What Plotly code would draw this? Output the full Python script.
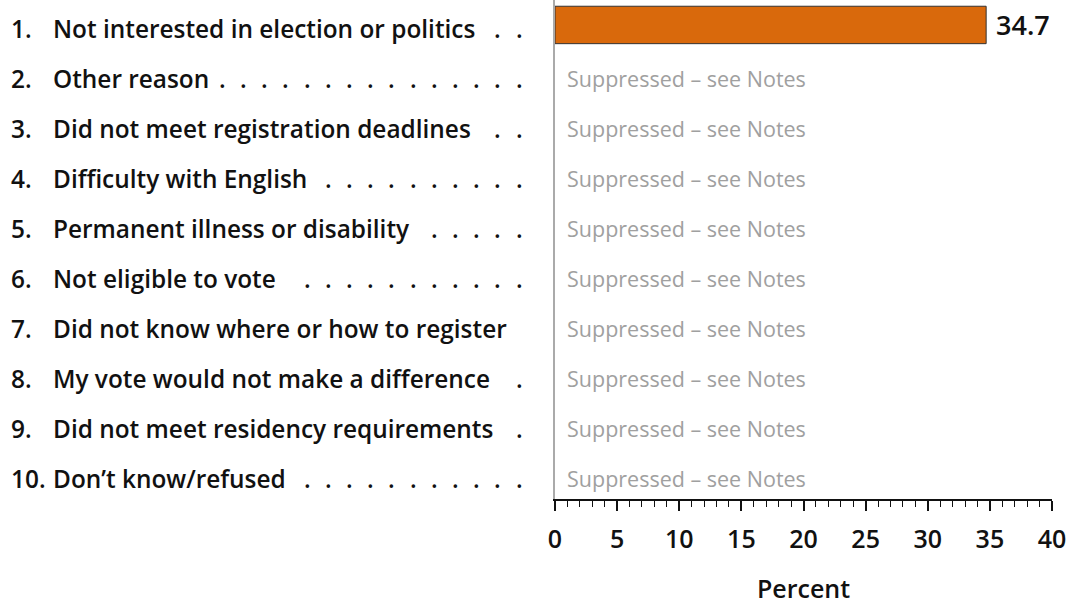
import plotly.graph_objects as go

numbers = ["1.", "2.", "3.", "4.", "5.", "6.", "7.", "8.", "9.", "10."]
reasons = [
    "Not interested in election or politics",
    "Other reason",
    "Did not meet registration deadlines",
    "Difficulty with English",
    "Permanent illness or disability",
    "Not eligible to vote",
    "Did not know where or how to register",
    "My vote would not make a difference",
    "Did not meet residency requirements",
    "Don\u2019t know/refused",
]
values = [34.7, None, None, None, None, None, None, None, None, None]
leader_dots = [2, 15, 2, 10, 5, 11, 0, 1, 1, 11]
suppressed_text = "Suppressed \u2013 see Notes"
x_ticks = [0, 5, 10, 15, 20, 25, 30, 35, 40]

FONT = "Open Sans"
L = 555  # left margin px
LBL = dict(family=FONT, size=24.4, color="#111", weight=600)

fig = go.Figure()
fig.add_trace(go.Bar(
    y=reasons,
    x=values,
    orientation="h",
    width=0.75,
    marker=dict(color="#D9690C", line=dict(color="#333333", width=1)),
    hoverinfo="skip",
))

ann = []
for i, (num, r, v, nd) in enumerate(zip(numbers, reasons, values, leader_dots)):
    ys = -4
    ann.append(dict(x=0, y=r, xref="paper", yref="y", text=num, showarrow=False,
                    xanchor="left", xshift=9 - L, yshift=ys, font=LBL))
    ann.append(dict(x=0, y=r, xref="paper", yref="y", text=r, showarrow=False,
                    xanchor="left", xshift=51 - L, yshift=ys, font=LBL))
    for k in range(nd):
        ann.append(dict(x=0, y=r, xref="paper", yref="y", text=".", showarrow=False,
                        xanchor="center", xshift=519 - k * 21.2 - L, yshift=ys, font=LBL))
    if v is None:
        ann.append(dict(x=0, y=r, xref="x", yref="y", text=suppressed_text, showarrow=False,
                        xanchor="left", xshift=10, yshift=ys,
                        font=dict(family=FONT, size=21.5, color="#a0a0a0")))
    else:
        ann.append(dict(x=v, y=r, xref="x", yref="y", text=f"{v}", showarrow=False,
                        xanchor="left", xshift=8,
                        font=dict(family=FONT, size=27, color="#111", weight=600)))

fig.update_layout(
    width=1079, height=605,
    margin=dict(l=L, r=27, t=0, b=106),
    plot_bgcolor="white", paper_bgcolor="white",
    showlegend=False,
    annotations=ann,
    xaxis=dict(
        range=[0, 40], tickvals=x_ticks, ticktext=[str(t) for t in x_ticks],
        ticks="outside", ticklen=10, tickwidth=1.5, tickcolor="#111",
        ticklabelstandoff=7,
        showline=True, linecolor="#111", linewidth=1.5,
        showgrid=False, zeroline=False,
        minor=dict(dtick=1, ticks="outside", ticklen=6, tickcolor="#111", tickwidth=1),
        tickfont=dict(family=FONT, size=25, color="#111", weight=600),
        title=dict(text="Percent", font=dict(family=FONT, size=25, color="#111", weight=600),
                   standoff=30),
        fixedrange=True,
    ),
    yaxis=dict(
        categoryorder="array", categoryarray=reasons,
        autorange="reversed", showticklabels=False,
        showline=True, linecolor="#aaaaaa", linewidth=1.5,
        showgrid=False, zeroline=False, ticks="",
        fixedrange=True,
    ),
)

fig.write_html("out.html", config={"displayModeBar": False},
               post_script="document.body.style.margin='0px';")
